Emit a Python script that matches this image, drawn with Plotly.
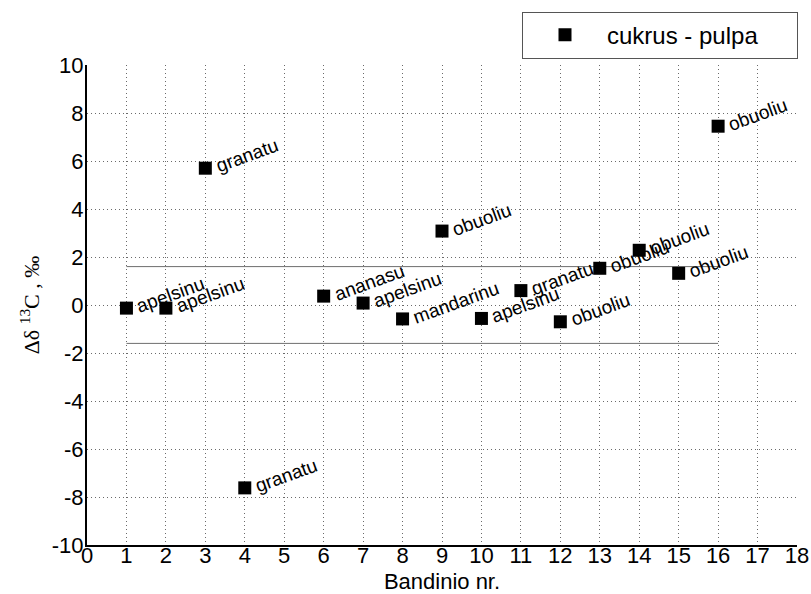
import plotly.graph_objects as go

# Data
sample_no = [1, 2, 3, 4, 6, 7, 8, 9, 10, 11, 12, 13, 14, 15, 16]
delta_values = [-0.13, -0.13, 5.7, -7.62, 0.37, 0.08, -0.58, 3.08, -0.56, 0.6, -0.7, 1.53, 2.28, 1.32, 7.45]
fruit_labels = ["apelsinu", "apelsinu", "granatu", "granatu", "ananasu", "apelsinu",
                "mandarinu", "obuoliu", "apelsinu", "granatu", "obuoliu", "obuoliu",
                "obuoliu", "obuoliu", "obuoliu"]
limit_x = [1, 16]
limit_value = 1.6
x_ticks = list(range(0, 19))
y_ticks = list(range(-10, 11, 2))
y_tick_text = [str(v).replace("\u2212", "-") for v in y_ticks]

fig = go.Figure()

# limit lines
for sign in (1, -1):
    fig.add_trace(go.Scatter(
        x=limit_x, y=[sign * limit_value] * len(limit_x), mode="lines",
        line=dict(color="#6e6e6e", width=1), showlegend=False, hoverinfo="skip"))

fig.add_trace(go.Scatter(
    x=sample_no, y=delta_values, mode="markers",
    marker=dict(symbol="square", size=13, color="black"),
    name="cukrus - pulpa" + "\u00a0" * 5,
))

for xv, yv, lab in zip(sample_no, delta_values, fruit_labels):
    fig.add_annotation(x=xv, y=yv, text=lab, showarrow=False, textangle=-20,
                       xanchor="left", yanchor="bottom", xshift=5, yshift=-11,
                       font=dict(family="Liberation Sans, Arial", size=19, color="black"))

grid_dash = "1px,3px"
fig.update_layout(
    width=811, height=594,
    margin=dict(l=87, r=14, t=62, b=49),
    paper_bgcolor="white", plot_bgcolor="white",
    font=dict(family="Liberation Sans, Arial", color="black"),
    showlegend=True,
    legend=dict(x=1.0014, xanchor="right", y=1.111, yanchor="top",
                bordercolor="#555555", borderwidth=1, bgcolor="white",
                font=dict(size=24, color="black"), itemwidth=74),
    xaxis=dict(range=[0, 18], tickvals=x_ticks, ticks="", showline=True,
               linecolor="black", linewidth=2, showgrid=True, gridcolor="#6a6a6a",
               griddash=grid_dash, gridwidth=1, zeroline=False, automargin=False,
               tickfont=dict(size=22), ticklabelstandoff=-10,
               title=dict(text="Bandinio nr.", font=dict(size=22), standoff=16)),
    yaxis=dict(range=[-10, 10], tickvals=y_ticks, ticktext=y_tick_text, ticks="",
               showline=True, automargin=False,
               linecolor="black", linewidth=2, showgrid=True, gridcolor="#6a6a6a",
               griddash=grid_dash, gridwidth=1, zeroline=False,
               tickfont=dict(size=22), ticklabelstandoff=-3,
               title=dict(text="Δδ <sup>13</sup>C , ‰",
                          font=dict(family="Liberation Serif, Times New Roman", size=22),
                          standoff=6)),
)

fig.write_html("out.html")
